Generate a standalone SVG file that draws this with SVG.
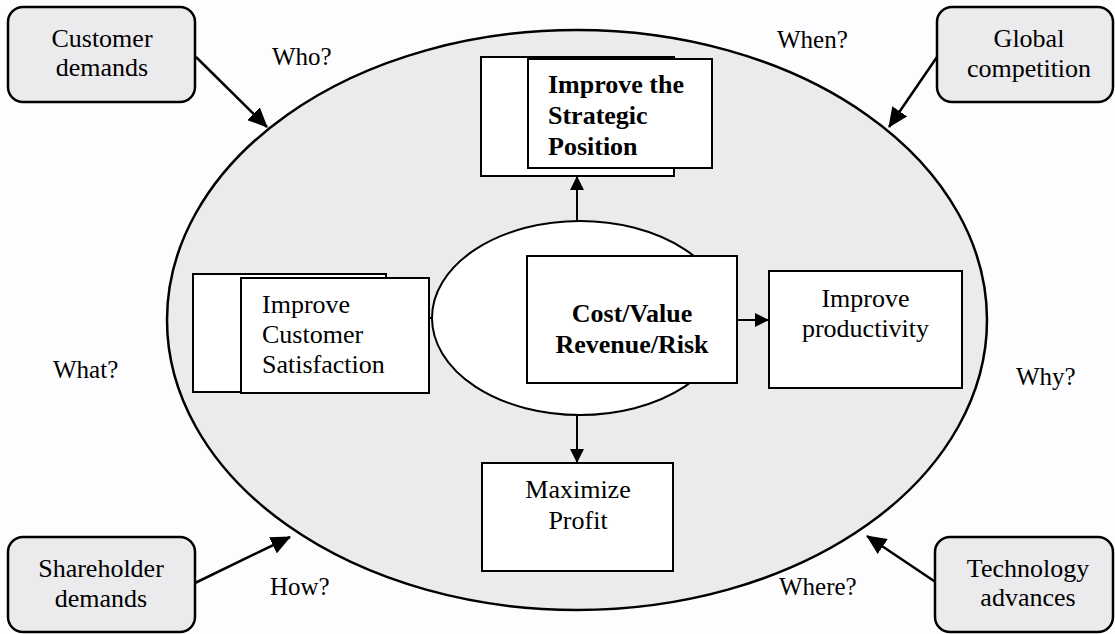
<svg xmlns="http://www.w3.org/2000/svg" width="1115" height="634" viewBox="0 0 1115 634">
  <defs>
    <style>
      .t { font-family: "Liberation Serif", "Times New Roman", serif; font-size: 26px; fill: #000; }
      .b { font-weight: bold; }
      .q { font-family: "Liberation Serif", "Times New Roman", serif; font-size: 25px; fill: #000; }
      .box { fill: #ffffff; stroke: #000; stroke-width: 2; }
      .rbox { fill: #ebeaec; stroke: #000; stroke-width: 2.5; }
      .c { fill: none; stroke: #000; stroke-width: 2; }
      .ca { fill: none; stroke: #000; stroke-width: 2.5; }
    </style>
    <marker id="ah" markerUnits="userSpaceOnUse" markerWidth="14" markerHeight="14" refX="13" refY="7" orient="auto">
      <path d="M0,0 L14,7 L0,14 Z" fill="#000"/>
    </marker>
    <marker id="ahl" markerUnits="userSpaceOnUse" markerWidth="20" markerHeight="18" refX="19" refY="9" orient="auto">
      <path d="M0,0 L20,9 L0,18 Z" fill="#000"/>
    </marker>
  </defs>
  <rect x="0" y="0" width="1115" height="634" fill="#fdfcfe"/>

  <g id="outer-ellipse">
    <ellipse cx="577" cy="320" rx="410" ry="290" fill="#ebeaec" stroke="#000" stroke-width="2.5"/>
  </g>

  <g id="inner-ellipse">
    <ellipse cx="580" cy="318" rx="148" ry="97" fill="#ffffff" stroke="#000" stroke-width="2"/>
  </g>

  <g id="questions">
    <text class="q" x="272" y="65">Who?</text>
    <text class="q" x="777" y="48">When?</text>
    <text class="q" x="53" y="378">What?</text>
    <text class="q" x="1016" y="385">Why?</text>
    <text class="q" x="270" y="595">How?</text>
    <text class="q" x="779" y="595">Where?</text>
  </g>

  <g id="connectors">
    <line class="c" x1="577" y1="221" x2="577" y2="177" marker-end="url(#ah)"/>
    <line class="c" x1="577" y1="415" x2="577" y2="462" marker-end="url(#ah)"/>
    <line class="c" x1="737" y1="320" x2="768" y2="320" marker-end="url(#ah)"/>
    <line class="c" x1="429" y1="318" x2="433" y2="318"/>
    <line class="ca" x1="196" y1="57" x2="267" y2="127" marker-end="url(#ahl)"/>
    <line class="ca" x1="937" y1="57" x2="889" y2="127" marker-end="url(#ahl)"/>
    <line class="ca" x1="195" y1="583" x2="290" y2="537" marker-end="url(#ahl)"/>
    <line class="ca" x1="937" y1="583" x2="867" y2="536" marker-end="url(#ahl)"/>
  </g>

  <g id="customer-demands">
    <rect class="rbox" x="8" y="7" width="187" height="95" rx="15" ry="15"/>
    <text class="t" x="102" y="47" text-anchor="middle">Customer</text>
    <text class="t" x="102" y="76" text-anchor="middle">demands</text>
  </g>

  <g id="global-competition">
    <rect class="rbox" x="937" y="7" width="176" height="95" rx="15" ry="15"/>
    <text class="t" x="1029" y="47" text-anchor="middle">Global</text>
    <text class="t" x="1029" y="77" text-anchor="middle">competition</text>
  </g>

  <g id="shareholder-demands">
    <rect class="rbox" x="8" y="537" width="187" height="95" rx="15" ry="15"/>
    <text class="t" x="101" y="577" text-anchor="middle">Shareholder</text>
    <text class="t" x="101" y="607" text-anchor="middle">demands</text>
  </g>

  <g id="technology-advances">
    <rect class="rbox" x="935" y="537" width="178" height="95" rx="15" ry="15"/>
    <text class="t" x="1028" y="577" text-anchor="middle">Technology</text>
    <text class="t" x="1028" y="606" text-anchor="middle">advances</text>
  </g>

  <g id="strategic-position">
    <rect class="box" x="481" y="57" width="193" height="119"/>
    <rect class="box" x="528" y="59" width="184" height="109"/>
    <text class="t b" x="548" y="93">Improve the</text>
    <text class="t b" x="548" y="124">Strategic</text>
    <text class="t b" x="548" y="155">Position</text>
  </g>

  <g id="customer-satisfaction">
    <rect class="box" x="193" y="274" width="193" height="118"/>
    <rect class="box" x="241" y="278" width="188" height="115"/>
    <text class="t" x="262" y="313">Improve</text>
    <text class="t" x="262" y="343">Customer</text>
    <text class="t" x="262" y="373">Satisfaction</text>
  </g>

  <g id="cost-value">
    <rect class="box" x="527" y="256" width="210" height="127"/>
    <text class="t b" x="632" y="322" text-anchor="middle">Cost/Value</text>
    <text class="t b" x="632" y="353" text-anchor="middle">Revenue/Risk</text>
  </g>

  <g id="improve-productivity">
    <rect class="box" x="769" y="271" width="193" height="117"/>
    <text class="t" x="865.5" y="307" text-anchor="middle">Improve</text>
    <text class="t" x="865.5" y="337" text-anchor="middle">productivity</text>
  </g>

  <g id="maximize-profit">
    <rect class="box" x="482" y="463" width="191" height="108"/>
    <text class="t" x="578" y="498" text-anchor="middle">Maximize</text>
    <text class="t" x="578" y="529" text-anchor="middle">Profit</text>
  </g>
</svg>
